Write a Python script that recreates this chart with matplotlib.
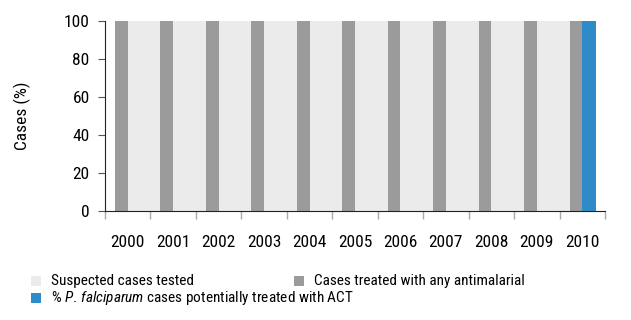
import numpy as np
import matplotlib.pyplot as plt
from matplotlib.patches import Rectangle

plt.rcParams['font.family'] = ['Roboto Condensed', 'Roboto', 'DejaVu Sans']
plt.rcParams['mathtext.fontset'] = 'custom'
plt.rcParams['mathtext.it'] = 'Roboto Condensed:italic'
plt.rcParams['mathtext.rm'] = 'Roboto Condensed'

# Data
years = ["2000", "2001", "2002", "2003", "2004", "2005", "2006", "2007", "2008", "2009", "2010"]
tested = [100, 100, 100, 100, 100, 100, 100, 100, 100, 100, 0]
treated_any = [100, 100, 100, 100, 100, 100, 100, 100, 100, 100, 100]
treated_act = [0, 0, 0, 0, 0, 0, 0, 0, 0, 0, 100]
labels = ["Suspected cases tested",
          "Cases treated with any antimalarial",
          r"% $\it{P.\,falciparum}$ cases potentially treated with ACT"]

c_tested = "#EBEBEB"
c_any = "#9B9B9B"
c_act = "#2F8AC8"
fs = 12.5

W, H = 631, 320
fig = plt.figure(figsize=(W / 100, H / 100), dpi=100)
ax = fig.add_axes([105 / W, 1 - 211 / H, 500 / W, 190 / H])

x = np.arange(len(years))
ax.bar(x, tested, width=0.72, align="edge", color=c_tested, zorder=1)
ax.bar(x, treated_any, width=-0.28, align="edge", color=c_any, zorder=2)
ax.bar(x, treated_act, width=0.30, align="edge", color=c_act, zorder=3)

ax.set_xlim(-0.5, len(years) - 0.5)
ax.set_ylim(0, 100)
ax.set_yticks(range(0, 101, 20))
ax.set_xticks(x)
ax.set_xticklabels(years)
ax.set_xticks(np.arange(-0.5, len(years)), minor=True)
ax.tick_params(axis="x", which="major", length=0, pad=17, labelsize=fs)
ax.tick_params(axis="x", which="minor", length=6, color="#AAAAAA", width=1)
ax.tick_params(axis="y", length=5, color="#555555", labelsize=fs, pad=6)
ax.set_ylabel("Cases (%)", fontsize=fs)
ax.yaxis.set_label_coords(-0.148, 0.5)

for s in ["top", "right"]:
    ax.spines[s].set_visible(False)
ax.spines["left"].set_color("#222222")
ax.spines["bottom"].set_color("#222222")

# legend drawn by hand (pixel positions from top-left)
items = [(31, 281, c_tested, labels[0]),
         (294, 281, c_any, labels[1]),
         (31, 298, c_act, labels[2])]
for px, py, col, lab in items:
    fig.add_artist(Rectangle((px / W, 1 - (py + 5) / H), 10 / W, 10 / H,
                             transform=fig.transFigure, color=col, lw=0))
    fig.text((px + 20) / W, 1 - py / H, lab, fontsize=11, va="center", ha="left")

fig.savefig("out.png", dpi=100)
